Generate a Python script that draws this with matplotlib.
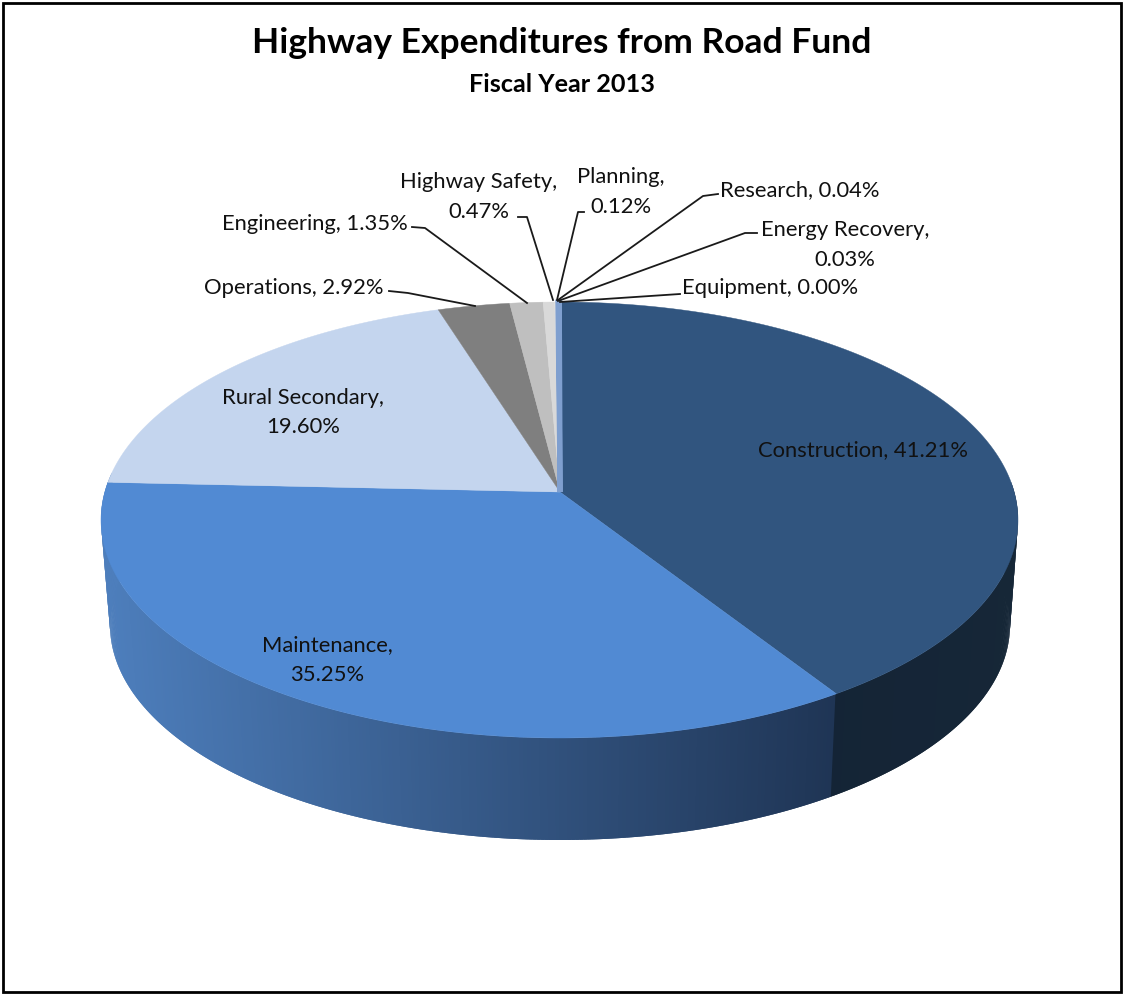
import numpy as np
import matplotlib
matplotlib.use("Agg")
import matplotlib.pyplot as plt
from matplotlib.colors import to_rgb
from matplotlib.patches import Rectangle

categories = ["Construction", "Maintenance", "Rural Secondary", "Operations", "Engineering",
              "Highway Safety", "Planning", "Research", "Energy Recovery", "Equipment"]
values = [41.21, 35.25, 19.60, 2.92, 1.35, 0.47, 0.12, 0.04, 0.03, 0.00]
colors = ["#31557F", "#518AD3", "#C4D5EE", "#7F7F7F", "#BFBFBF", "#D9D9D9", "#E4E4E4",
          "#7F9FCF", "#7F9FCF", "#7F9FCF"]

label_texts = ["Construction, 41.21%", "Maintenance,\n35.25%", "Rural Secondary,\n19.60%",
               "Operations, 2.92%", "Engineering, 1.35%", "Highway Safety,\n0.47%",
               "Planning,\n0.12%", "Research, 0.04%", "Energy Recovery,\n0.03%", "Equipment, 0.00%"]
label_pos = [(863, 450), (327, 660), (303, 412.5), (294, 288), (315, 224), (479, 197),
             (621, 192), (800, 190), (845, 245), (770, 288)]
leaders = {3: [(389, 291), (408, 293), (475, 306)],
           4: [(412, 227), (425, 228), (527, 303)],
           5: [(518, 217), (527, 217), (553, 300)],
           6: [(584, 212), (578, 212), (557, 300)],
           7: [(718, 194), (703, 196), (558, 300)],
           8: [(757, 233), (745, 233), (558, 301)],
           9: [(680, 294), (665, 295), (560, 302)]}

plt.rcParams["font.family"] = ["Lato", "DejaVu Sans"]
fig = plt.figure(figsize=(11.23, 9.94), dpi=100)
ax = fig.add_axes([0, 0, 1, 1])
ax.set_xlim(0, 1123)
ax.set_ylim(994, 0)
ax.axis("off")

# pie geometry on the page
cx, cy, rx, ry = 559.5, 520, 458.5, 218      # top face ellipse
ax_, ay_ = 560, 492                          # apex as seen in perspective
bcx, bcy, brx, bry = 560, 625, 450, 215      # bottom rim ellipse


def warp(theta):
    return theta - 7.4 * np.sin(np.radians(theta))


def top(phi):
    p = np.radians(phi)
    return cx + rx * np.sin(p), cy - ry * np.cos(p)


def bottom(phi):
    p = np.radians(phi)
    return bcx + brx * np.sin(p), bcy - bry * np.cos(p)


shares = np.array(values) / np.sum(values) * 360
edges = np.concatenate([[0], np.cumsum(shares)])


def mix(a, b, t):
    a, b = np.array(to_rgb(a)), np.array(to_rgb(b))
    return tuple(a + (b - a) * t)


# side wall
for phi in np.arange(80, 282, 0.5):
    x1, y1 = top(phi)
    x2, y2 = top(phi + 1.0)
    x3, y3 = bottom(phi + 1.0)
    x4, y4 = bottom(phi)
    if phi < warp(edges[1]):
        col = mix("#172838", "#142436", (phi - 80) / 70)
    else:
        t = np.clip((836 - x1) / (836 - 105), 0, 1)
        col = mix("#1F3555", "#4D7EBC", t)
    ax.fill([x1, x2, x3, x4], [y1, y2, y3, y4], color=col, lw=0, zorder=1)

# top face
for i, c in enumerate(colors):
    a = np.linspace(edges[i], edges[i + 1], max(int(shares[i] * 2), 2))
    px, py = top(warp(a))
    thin = shares[i] < 0.2
    ax.fill(np.r_[ax_, px], np.r_[ay_, py], facecolor=c, edgecolor=c,
            lw=3.5 if thin and i >= 7 else 0.3, zorder=3 if i >= 7 else 2)

# labels
for i, t in enumerate(label_texts):
    ax.text(*label_pos[i], t, ha="center", va="center", fontsize=15.8, color="#111111",
            linespacing=1.62, zorder=5)
for pts in leaders.values():
    xs, ys = zip(*pts)
    ax.plot(xs, ys, color="#1a1a1a", lw=1.3, zorder=4)

ax.text(562, 43, "Highway Expenditures from Road Fund", ha="center", va="center",
        fontsize=25.5, fontweight="bold", color="black")
ax.text(562, 84, "Fiscal Year 2013", ha="center", va="center",
        fontsize=18.2, fontweight="bold", color="black")

ax.add_patch(Rectangle((2.5, 2.5), 1118, 989, fill=False, ec="black", lw=2, zorder=6))
fig.savefig("out.png", dpi=100, facecolor="white")
